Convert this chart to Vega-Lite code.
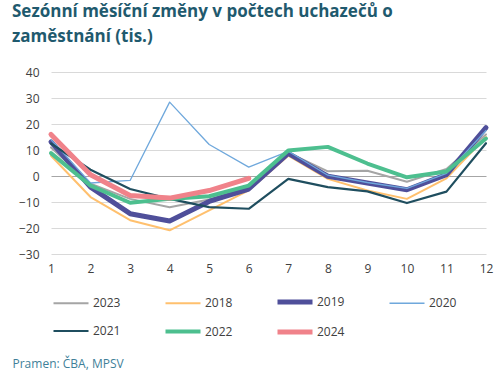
{
  "$schema": "https://vega.github.io/schema/vega-lite/v6.json",
  "width": 435,
  "height": 182,
  "autosize": "none",
  "padding": {"left": 51, "top": 72, "right": 14, "bottom": 125},
  "background": "white",
  "config": {
    "view": {"stroke": null},
    "font": "Open Sans"
  },
  "title": {
    "text": ["Sezónní měsíční změny v počtech uchazečů o", "zaměstnání (tis.)"],
    "anchor": "start",
    "frame": "group",
    "dx": -39,
    "offset": 20,
    "font": "Open Sans",
    "fontSize": 17,
    "fontWeight": "bold",
    "color": "#1f5a6e",
    "lineHeight": 25
  },
  "datasets": {
    "main": [
      {"year": "2023", "m": 1, "v": 11}, {"year": "2023", "m": 2, "v": -3}, {"year": "2023", "m": 3, "v": -8.8}, {"year": "2023", "m": 4, "v": -12}, {"year": "2023", "m": 5, "v": -9}, {"year": "2023", "m": 6, "v": -4}, {"year": "2023", "m": 7, "v": 9}, {"year": "2023", "m": 8, "v": 1.8}, {"year": "2023", "m": 9, "v": 2}, {"year": "2023", "m": 10, "v": -2.2}, {"year": "2023", "m": 11, "v": 2.7}, {"year": "2023", "m": 12, "v": 16},
      {"year": "2018", "m": 1, "v": 7.8}, {"year": "2018", "m": 2, "v": -8.1}, {"year": "2018", "m": 3, "v": -17}, {"year": "2018", "m": 4, "v": -20.9}, {"year": "2018", "m": 5, "v": -13.2}, {"year": "2018", "m": 6, "v": -5.5}, {"year": "2018", "m": 7, "v": 7.8}, {"year": "2018", "m": 8, "v": -1.1}, {"year": "2018", "m": 9, "v": -5.6}, {"year": "2018", "m": 10, "v": -8.8}, {"year": "2018", "m": 11, "v": -0.9}, {"year": "2018", "m": 12, "v": 15},
      {"year": "2019", "m": 1, "v": 13.1}, {"year": "2019", "m": 2, "v": -4.3}, {"year": "2019", "m": 3, "v": -14.5}, {"year": "2019", "m": 4, "v": -17.3}, {"year": "2019", "m": 5, "v": -9.8}, {"year": "2019", "m": 6, "v": -5}, {"year": "2019", "m": 7, "v": 8.7}, {"year": "2019", "m": 8, "v": -0.1}, {"year": "2019", "m": 9, "v": -2.7}, {"year": "2019", "m": 10, "v": -5.3}, {"year": "2019", "m": 11, "v": 0.5}, {"year": "2019", "m": 12, "v": 18.6},
      {"year": "2020", "m": 1, "v": 14}, {"year": "2020", "m": 2, "v": -2.7}, {"year": "2020", "m": 3, "v": -1.7}, {"year": "2020", "m": 4, "v": 28.4}, {"year": "2020", "m": 5, "v": 12.1}, {"year": "2020", "m": 6, "v": 3.4}, {"year": "2020", "m": 7, "v": 9.5}, {"year": "2020", "m": 8, "v": 0.3}, {"year": "2020", "m": 9, "v": -2.5}, {"year": "2020", "m": 10, "v": -4.8}, {"year": "2020", "m": 11, "v": 1}, {"year": "2020", "m": 12, "v": 17.5},
      {"year": "2021", "m": 1, "v": 12.5}, {"year": "2021", "m": 2, "v": 2.4}, {"year": "2021", "m": 3, "v": -5}, {"year": "2021", "m": 4, "v": -8.8}, {"year": "2021", "m": 5, "v": -12}, {"year": "2021", "m": 6, "v": -12.6}, {"year": "2021", "m": 7, "v": -1.1}, {"year": "2021", "m": 8, "v": -4.3}, {"year": "2021", "m": 9, "v": -5.9}, {"year": "2021", "m": 10, "v": -10.4}, {"year": "2021", "m": 11, "v": -6}, {"year": "2021", "m": 12, "v": 12.6},
      {"year": "2022", "m": 1, "v": 8.8}, {"year": "2022", "m": 2, "v": -3.7}, {"year": "2022", "m": 3, "v": -10.3}, {"year": "2022", "m": 4, "v": -8.8}, {"year": "2022", "m": 5, "v": -7.8}, {"year": "2022", "m": 6, "v": -3.7}, {"year": "2022", "m": 7, "v": 9.8}, {"year": "2022", "m": 8, "v": 11.2}, {"year": "2022", "m": 9, "v": 4.8}, {"year": "2022", "m": 10, "v": -0.5}, {"year": "2022", "m": 11, "v": 1.7}, {"year": "2022", "m": 12, "v": 14.4},
      {"year": "2024", "m": 1, "v": 16}, {"year": "2024", "m": 2, "v": 0.5}, {"year": "2024", "m": 3, "v": -7.5}, {"year": "2024", "m": 4, "v": -8.5}, {"year": "2024", "m": 5, "v": -5.6}, {"year": "2024", "m": 6, "v": -0.9}
    ],
    "months": [
      {"m": 1}, {"m": 2}, {"m": 3}, {"m": 4}, {"m": 5}, {"m": 6}, {"m": 7}, {"m": 8}, {"m": 9}, {"m": 10}, {"m": 11}, {"m": 12}
    ]
  },
  "encoding": {
    "x": {
      "field": "m", "type": "quantitative",
      "scale": {"domain": [1, 12], "nice": false, "zero": false},
      "axis": {
        "values": [1,2,3,4,5,6,7,8,9,10,11,12],
        "format": "d",
        "domain": false, "ticks": false, "grid": false,
        "labelOverlap": false,
        "labelFont": "Open Sans", "labelFontSize": 12, "labelColor": "#404040", "labelPadding": 9,
        "labelFlush": false,
        "title": "Pramen: ČBA, MPSV",
        "titleFont": "Open Sans", "titleFontSize": 12, "titleFontWeight": "normal", "titleColor": "#3f7f99",
        "titleAnchor": "start", "titleAlign": "left", "titleBaseline": "middle",
        "titleX": -39, "titleY": 109
      }
    },
    "y": {
      "field": "v", "type": "quantitative",
      "scale": {"domain": [-30, 40], "nice": false},
      "axis": {
        "values": [-30,-20,-10,0,10,20,30,40],
        "domain": false, "ticks": false,
        "labelOverlap": false,
        "labelFont": "Open Sans", "labelFontSize": 12, "labelColor": "#404040", "labelPadding": 12,
        "grid": true,
        "gridColor": {"condition": {"test": "datum.value === 0", "value": "#a6a6a6"}, "value": "#d9d9d9"},
        "gridWidth": 1,
        "title": null
      }
    }
  },
  "layer": [
    {
      "data": {"name": "main"},
      "mark": {"type": "line", "strokeCap": "round", "strokeJoin": "round"},
      "encoding": {
        "color": {
          "field": "year", "type": "nominal",
          "scale": {
            "domain": ["2023","2018","2019","2020","2021","2022","2024"],
            "range": ["#a5a5a5","#ffc06e","#4f4f9a","#6fa8dc","#1f4e5f","#4dbf8f","#f0828a"]
          },
          "legend": {
            "orient": "none",
            "legendX": 0,
            "legendY": 210,
            "direction": "horizontal",
            "columns": 4,
            "title": null,
            "symbolType": "stroke",
            "symbolSize": 1225,
            "symbolOffset": 0,
            "labelFont": "Open Sans",
            "labelFontSize": 12,
            "labelColor": "#404040",
            "labelOffset": 2,
            "columnPadding": 34,
            "rowPadding": -5,
            "gridAlign": "all",
            "labelLimit": 40
          }
        },
        "strokeWidth": {
          "field": "year", "type": "nominal",
          "scale": {
            "type": "ordinal",
            "domain": ["2023","2018","2019","2020","2021","2022","2024"],
            "range": [2, 2, 5, 1.3, 2.2, 4, 5]
          }
        },
        "order": {"field": "m"}
      }
    },
    {
      "data": {"name": "months"},
      "mark": {"type": "rule", "color": "#a6a6a6", "strokeWidth": 1},
      "encoding": {
        "y": {"datum": 0, "type": "quantitative"},
        "y2": {"datum": -1.9}
      }
    }
  ]
}
